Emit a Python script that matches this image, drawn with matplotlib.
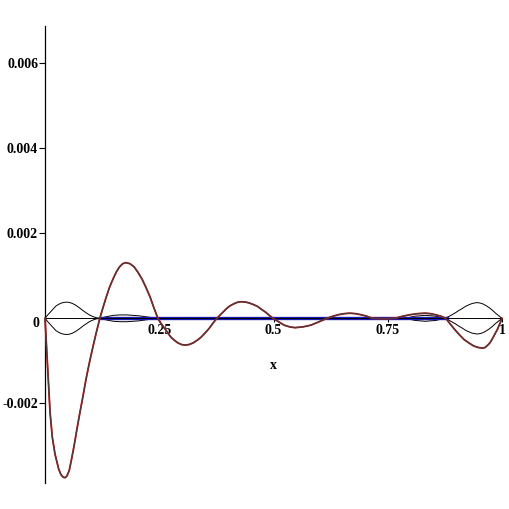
import matplotlib
matplotlib.use('Agg')
import matplotlib.pyplot as plt
import numpy as np

# error curve (red / dark overlay), y in units of 1e-3
err_x = [0.000, 0.002, 0.004, 0.007, 0.011, 0.016, 0.022, 0.030, 0.035, 0.040,
         0.044, 0.048, 0.053, 0.058, 0.064, 0.070, 0.076, 0.083, 0.090, 0.098,
         0.106, 0.113, 0.120, 0.127, 0.134, 0.141, 0.149, 0.156, 0.163, 0.170,
         0.177, 0.186, 0.195, 0.203, 0.212, 0.221, 0.230, 0.238, 0.247,
         0.254, 0.262, 0.269, 0.276, 0.284, 0.291, 0.299, 0.306,
         0.315, 0.324, 0.332, 0.341, 0.350, 0.359, 0.367, 0.376,
         0.383, 0.390, 0.396, 0.403, 0.410, 0.417, 0.423, 0.430,
         0.439, 0.447, 0.456, 0.465, 0.473, 0.482, 0.490, 0.499,
         0.511, 0.523, 0.535, 0.547, 0.565, 0.582, 0.600, 0.617,
         0.630, 0.642, 0.655, 0.667, 0.679, 0.691, 0.704, 0.716,
         0.741, 0.766, 0.783, 0.799, 0.816, 0.832, 0.843, 0.854, 0.866, 0.877,
         0.887, 0.897, 0.907, 0.917, 0.928, 0.938, 0.948, 0.958,
         0.963, 0.969, 0.974, 0.979, 0.984, 0.990, 0.995, 1.000]
err_y = [0.00, -0.40, -0.80, -1.40, -2.20, -2.80, -3.20, -3.55, -3.68, -3.74,
         -3.75, -3.71, -3.58, -3.32, -2.98, -2.60, -2.24, -1.84, -1.42, -1.00,
         -0.62, -0.30, 0.00, 0.256, 0.50, 0.725, 0.93, 1.089, 1.21, 1.285,
         1.31, 1.285, 1.21, 1.089, 0.93, 0.725, 0.50, 0.256, 0.00,
         -0.123, -0.24, -0.349, -0.45, -0.524, -0.58, -0.618, -0.63,
         -0.618, -0.58, -0.524, -0.45, -0.349, -0.24, -0.123, 0.00,
         0.076, 0.15, 0.216, 0.28, 0.324, 0.36, 0.383, 0.39,
         0.383, 0.36, 0.324, 0.28, 0.216, 0.15, 0.076, 0.00,
         -0.08, -0.16, -0.20, -0.22, -0.20, -0.16, -0.08, 0.00,
         0.05, 0.085, 0.11, 0.12, 0.11, 0.085, 0.05, 0.00,
         -0.01, 0.00, 0.05, 0.085, 0.11, 0.12, 0.11, 0.085, 0.05, 0.00,
         -0.137, -0.27, -0.389, -0.50, -0.582, -0.65, -0.687, -0.70,
         -0.687, -0.63, -0.57, -0.48, -0.38, -0.26, -0.13, 0.00]

# error bound envelope (upper; lower is its mirror), y in units of 1e-3
env_x = [0.000, 0.006, 0.012, 0.018, 0.024, 0.030, 0.036, 0.042, 0.047, 0.053,
         0.060, 0.067, 0.075, 0.082, 0.090, 0.097, 0.105, 0.112, 0.120,
         0.135, 0.150, 0.165, 0.179, 0.192, 0.205, 0.225, 0.247,
         0.280, 0.310, 0.345, 0.376, 0.410, 0.440, 0.470, 0.499,
         0.530, 0.560, 0.590, 0.617, 0.650, 0.690, 0.720, 0.750, 0.788,
         0.810, 0.832, 0.855, 0.875,
         0.883, 0.890, 0.898, 0.905, 0.913, 0.920, 0.928, 0.935, 0.945,
         0.952, 0.958, 0.965, 0.972, 0.979, 0.986, 0.993, 1.000]
env_y = [0.00, 0.08, 0.15, 0.22, 0.29, 0.33, 0.36, 0.375, 0.38, 0.375,
         0.35, 0.31, 0.25, 0.19, 0.13, 0.08, 0.04, 0.015, 0.00,
         0.04, 0.07, 0.08, 0.08, 0.07, 0.06, 0.03, 0.00,
         0.015, 0.02, 0.015, 0.00, 0.015, 0.02, 0.015, 0.00,
         0.015, 0.02, 0.015, 0.00, 0.015, 0.015, 0.00, 0.015, 0.00,
         0.05, 0.07, 0.05, 0.00,
         0.04, 0.08, 0.13, 0.18, 0.23, 0.28, 0.32, 0.35, 0.37,
         0.36, 0.34, 0.30, 0.25, 0.19, 0.12, 0.06, 0.00]

# near-zero blue curve
blue_x = [0.120, 0.250, 0.376, 0.499, 0.617, 0.750, 0.880]
blue_y = [0.00, 0.00, 0.00, 0.00, 0.00, 0.00, 0.00]

xticks = [0.25, 0.5, 0.75, 1]
xtick_labels = ['0.25', '0.5', '0.75', '1']
yticks = [-0.002, 0.002, 0.004, 0.006]
ytick_labels = ['-0.002', '0.002', '0.004', '0.006']

scale = 1e-3
fig = plt.figure(figsize=(5.09, 5.09), dpi=100)
fig.patch.set_facecolor('white')
ax = fig.add_axes([45 / 509, 26 / 509, 457 / 509, 457 / 509])
ax.set_xlim(0, 1)
ax.set_ylim(-0.003875, 0.006878)

ex = np.array(err_x)
ey = np.array(err_y) * scale
nx = np.array(env_x)
ny = np.array(env_y) * scale

ax.plot(nx, ny, color='black', lw=0.7, zorder=2)
ax.plot(nx, -ny, color='black', lw=0.7, zorder=2)
ax.plot(blue_x, np.array(blue_y) * scale, color='#1c1cb8', lw=2.4, zorder=3)
ax.plot(ex, ey, color='#c01010', lw=1.3, zorder=4, clip_on=False)
ax.plot(ex, ey, color='#4a3c3c', lw=0.9, zorder=5, clip_on=False)

for s in ['top', 'right']:
    ax.spines[s].set_visible(False)
ax.spines['left'].set_position(('data', 0))
ax.spines['bottom'].set_position(('data', 0))
ax.spines['left'].set_linewidth(0.9)
ax.spines['bottom'].set_linewidth(0.7)
ax.spines['bottom'].set_zorder(3.5)

font = dict(family='Liberation Serif', weight='bold', size=10)
ax.set_xticks(xticks)
ax.set_xticklabels(xtick_labels, fontdict=font)
ax.set_yticks(yticks)
ax.set_yticklabels(ytick_labels, fontdict=font)
ax.tick_params(axis='x', direction='out', length=3, width=0.8, pad=1)
ax.tick_params(axis='y', direction='out', length=4, width=0.8, pad=1)

ax.text(-0.012, -0.00012, '0', ha='right', va='center', **font)
ax.text(0.499, -0.0011, 'x', ha='center', va='center', **font)

fig.savefig('out.png', dpi=100, facecolor='white')
